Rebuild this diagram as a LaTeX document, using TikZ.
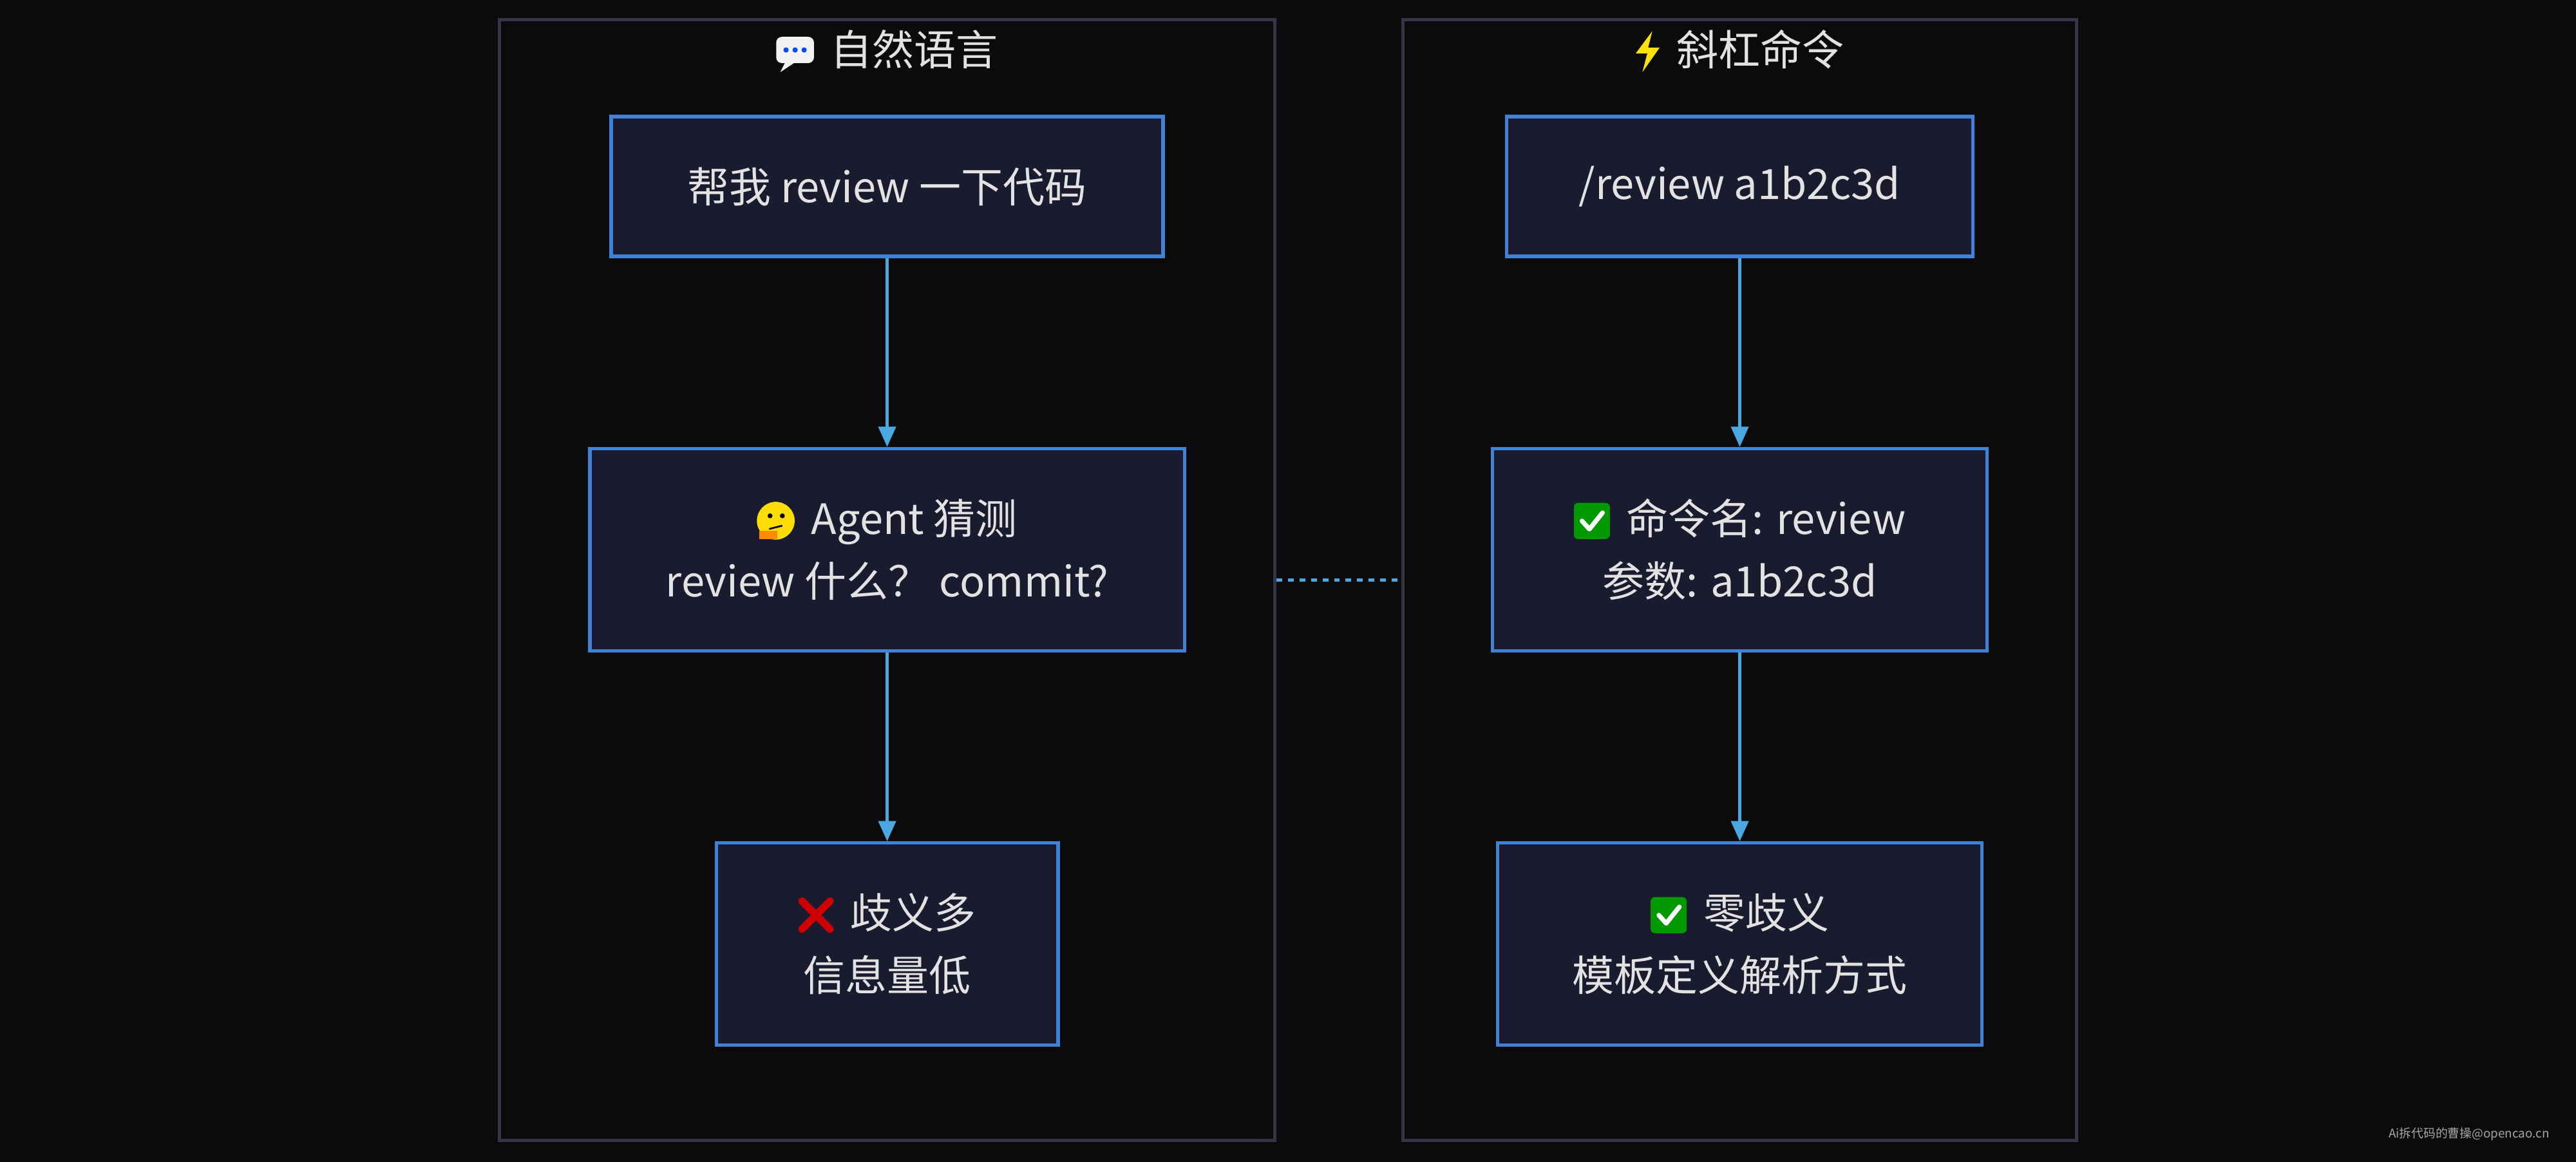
\documentclass[tikz,border=0pt]{standalone}
\usepackage{fontspec}
\setmainfont{Noto Sans CJK SC}
\usetikzlibrary{fit,arrows.meta}
\definecolor{bg}{HTML}{0B0B0C}
\definecolor{boxfill}{HTML}{1A1B2E}
\definecolor{boxline}{HTML}{3F82D8}
\definecolor{arr}{HTML}{4AA8E0}
\definecolor{clus}{HTML}{34344A}
\definecolor{txt}{HTML}{E2E2E2}
\tikzset{emo/.style={x=1cm,y=1cm,baseline=-0.6ex}}
\newcommand{\emCheck}{\tikz[emo]{\fill[green!60!black,rounded corners=1.5pt] (-0.22,-0.22) rectangle (0.22,0.22);\draw[white,line width=1.6pt,line cap=round,line join=round] (-0.12,0) -- (-0.03,-0.1) -- (0.13,0.1);}\hspace{0.4em}}
\newcommand{\emCross}{\tikz[emo]{\draw[red!80!black,line width=2.6pt,line cap=round] (-0.17,-0.17) -- (0.17,0.17) (-0.17,0.17) -- (0.17,-0.17);}\hspace{0.4em}}
\newcommand{\emThink}{\tikz[emo]{\fill[yellow!80!orange] (0,0) circle (0.23);\fill[black] (-0.07,0.06) circle (0.03) (0.08,0.06) circle (0.03);\draw[black,line width=0.6pt] (-0.08,-0.1) -- (0.08,-0.06);\fill[orange!90!yellow] (-0.2,-0.22) rectangle (0.02,-0.12);}\hspace{0.4em}}
\newcommand{\emBubble}{\tikz[emo]{\fill[white!90!gray,rounded corners=2pt] (-0.23,-0.14) rectangle (0.23,0.18);\fill[white!90!gray] (-0.12,-0.13) -- (-0.18,-0.25) -- (0,-0.13);\fill[blue!70!cyan] (-0.11,0.02) circle (0.032) (0,0.02) circle (0.032) (0.11,0.02) circle (0.032);}\hspace{0.4em}}
\newcommand{\emBolt}{\tikz[emo]{\fill[yellow!85!orange] (0.06,0.25) -- (-0.14,-0.02) -- (0,-0.02) -- (-0.06,-0.25) -- (0.15,0.05) -- (0.01,0.05) -- cycle;}\hspace{0.4em}}
\begin{document}
\begin{tikzpicture}[x=0.02cm,y=-0.02cm,
  box/.style={draw=boxline,fill=boxfill,line width=1.2pt,inner sep=0pt,text=txt,align=center,font=\fontsize{14.5}{21.6}\selectfont},
  cl/.style={draw=clus,line width=1pt,inner sep=0pt},
  ttl/.style={text=txt,font=\fontsize{14.5}{15}\selectfont},
  ar/.style={draw=arr,line width=1pt,-{Triangle[length=7pt,width=6pt]}}]
\fill[bg] (0,0) rectangle (1568,707);
\useasboundingbox (0,0) rectangle (1568,707);
\node[cl,fit={(304,12)(776,694)}] (L) {};
\node[cl,fit={(854,12)(1264,694)}] (R) {};
\node[ttl] (Lt) at (540,31) {\emBubble 自然语言};
\node[ttl] (Rt) at (1059,31) {\emBolt 斜杠命令};
\node[box,minimum width=6.72cm,minimum height=1.7cm] (a) at (540,113.5) {帮我 review 一下代码};
\node[box,minimum width=7.24cm,minimum height=2.46cm] (b) at (540,334.5) {\emThink Agent 猜测\\review 什么？ commit?};
\node[box,minimum width=4.16cm,minimum height=2.46cm] (c) at (540,574.5) {\emCross 歧义多\\信息量低};
\node[box,minimum width=5.68cm,minimum height=1.7cm] (d) at (1059,113.5) {/review a1b2c3d};
\node[box,minimum width=6.02cm,minimum height=2.46cm] (e) at (1059,334.5) {\emCheck 命令名: review\\参数: a1b2c3d};
\node[box,minimum width=5.9cm,minimum height=2.46cm] (f) at (1059,574.5) {\emCheck 零歧义\\模板定义解析方式};
\draw[ar] (a) -- (b);
\draw[ar] (b) -- (c);
\draw[ar] (d) -- (e);
\draw[ar] (e) -- (f);
\draw[arr,line width=1pt,dash pattern=on 2pt off 2pt] (L.east |- 0,353) -- (R.west |- 0,353);
\node[anchor=east,text=gray!70!white,font=\fontsize{4.2}{5}\selectfont] (wm) at (1558,690) {Ai拆代码的曹操@opencao.cn};
\end{tikzpicture}
\end{document}
